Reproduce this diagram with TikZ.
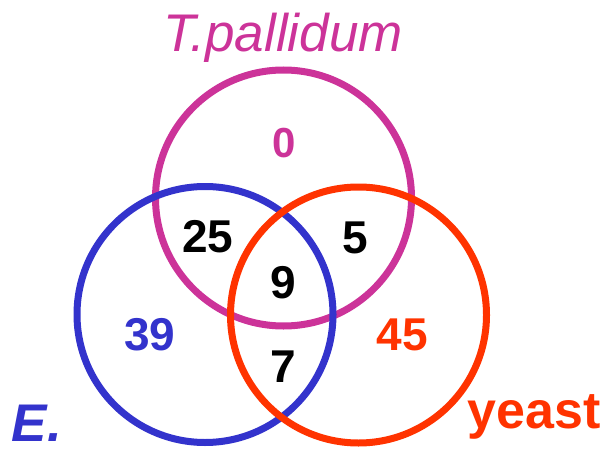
\documentclass[tikz,border=0pt]{standalone}
\usepackage{fontspec}
\setmainfont{Liberation Sans}
\definecolor{tpcol}{HTML}{CC3399}
\definecolor{eccol}{HTML}{3333CC}
\definecolor{yecol}{HTML}{FF3300}
\tikzset{
  setring/.style={circle, draw=#1, line width=7pt, minimum size=256pt, inner sep=0pt},
  count/.style={font=\fontsize{46}{46}\selectfont\bfseries, text=#1, inner sep=0pt},
  count/.default=black,
  setname/.style={inner sep=0pt, anchor=base}
}
\begin{document}
\begin{tikzpicture}[x=1pt, y=-1pt]
  \useasboundingbox (0,0) rectangle (612,449);
  % the three sets
  \node[setring=tpcol] (tp) at (283.5,198) {};
  \node[setring=eccol] (ec) at (205,314.5) {};
  \node[setring=yecol] (ye) at (358.5,315) {};
  % set names
  \node[setname, text=tpcol, font=\fontsize{53}{53}\selectfont\itshape] (tpname) at (283,52) {T.pallidum};
  \node[setname, text=eccol, font=\fontsize{53}{53}\selectfont\bfseries\itshape] (ecname) at (37,441) {E.};
  \node[setname, text=yecol, font=\fontsize{52}{52}\selectfont\bfseries] (yename) at (534,428) {yeast};
  % region counts
  \node[count=tpcol, font=\fontsize{42}{42}\selectfont\bfseries] (c0) at (284,143) {0};
  \node[count] (c25) at (208,236.5) {25};
  \node[count] (c5) at (355,237.5) {5};
  \node[count] (c9) at (283.5,282.5) {9};
  \node[count] (c7) at (283,366.5) {7};
  \node[count=eccol] (c39) at (150,335) {39};
  \node[count=yecol] (c45) at (402.5,335) {45};
\end{tikzpicture}
\end{document}
